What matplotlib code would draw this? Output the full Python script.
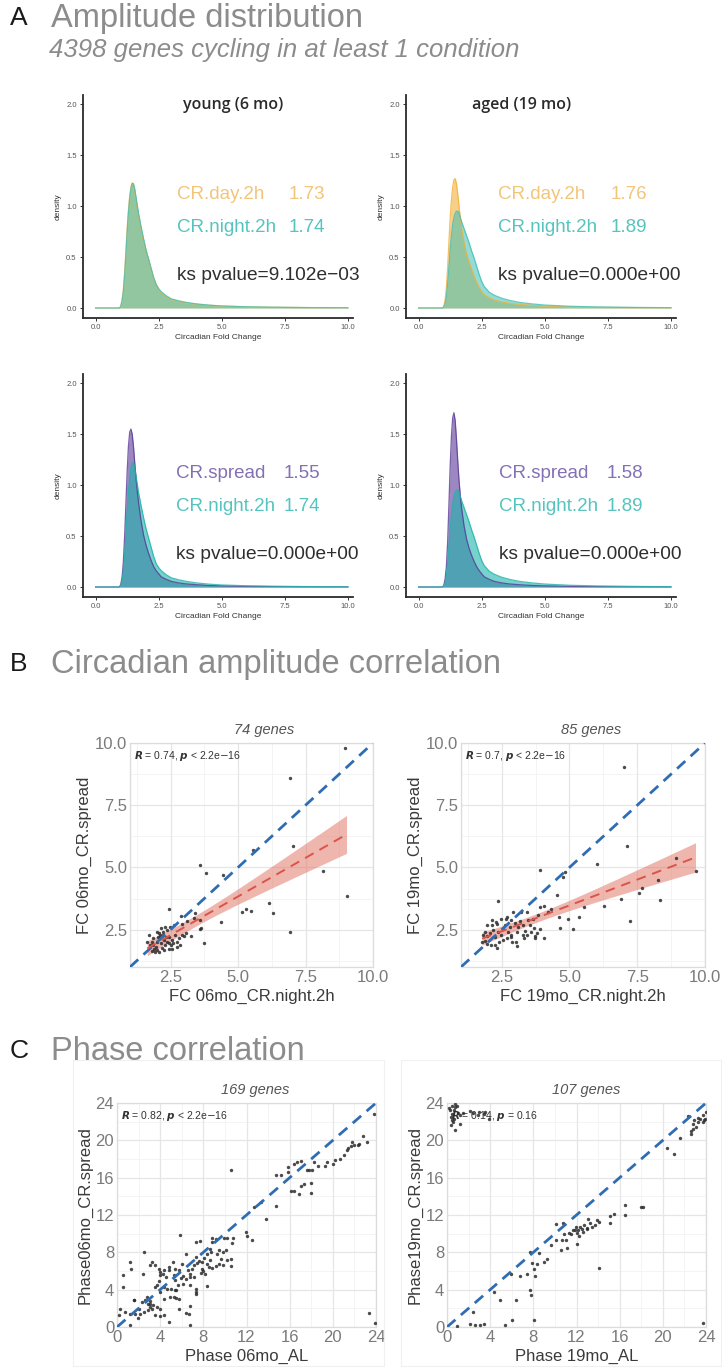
import numpy as np
import matplotlib
matplotlib.use('Agg')
import matplotlib.pyplot as plt
from matplotlib.patches import Rectangle

plt.rcParams['font.family'] = ['Liberation Sans', 'DejaVu Sans']
plt.rcParams['mathtext.fontset'] = 'dejavusans'

W, H = 722, 1369

# ---------------- A: amplitude density curves ----------------
FC_GRID = [0, 0.95, 1.0, 1.05, 1.1, 1.15, 1.2, 1.25, 1.3, 1.35, 1.4, 1.45, 1.5,
           1.55, 1.6, 1.65, 1.7, 1.8, 1.9, 2.0, 2.1, 2.2, 2.3, 2.4, 2.5, 2.6,
           2.8, 3.0, 3.3, 3.6, 4.0, 4.5, 5.0, 6.0, 7.0, 8.5, 10.0]

YOUNG_DAY = [0, 0, 0.02, 0.08, 0.18, 0.35, 0.56, 0.78, 0.96, 1.10, 1.19, 1.23, 1.21,
             1.15, 1.07, 0.99, 0.91, 0.78, 0.66, 0.56, 0.47, 0.38, 0.29, 0.23, 0.18,
             0.15, 0.11, 0.085, 0.065, 0.05, 0.038, 0.027, 0.019, 0.011, 0.007, 0.004, 0.002]
YOUNG_NIGHT = [0, 0, 0.02, 0.07, 0.16, 0.32, 0.52, 0.74, 0.93, 1.07, 1.17, 1.22, 1.22,
               1.17, 1.09, 1.01, 0.93, 0.80, 0.68, 0.57, 0.48, 0.39, 0.30, 0.23, 0.19,
               0.16, 0.12, 0.09, 0.07, 0.055, 0.04, 0.028, 0.02, 0.012, 0.008, 0.004, 0.002]
YOUNG_SPREAD = [0, 0, 0.03, 0.1, 0.25, 0.5, 0.82, 1.13, 1.38, 1.52, 1.55, 1.5, 1.38,
                1.22, 1.07, 0.94, 0.83, 0.65, 0.51, 0.41, 0.33, 0.26, 0.2, 0.16, 0.13,
                0.1, 0.075, 0.055, 0.04, 0.03, 0.022, 0.015, 0.011, 0.006, 0.004, 0.002, 0.001]
AGED_DAY = [0, 0, 0.02, 0.08, 0.2, 0.4, 0.64, 0.88, 1.06, 1.19, 1.26, 1.27, 1.22,
            1.12, 1.0, 0.89, 0.79, 0.64, 0.53, 0.45, 0.38, 0.31, 0.25, 0.2, 0.16,
            0.13, 0.1, 0.078, 0.06, 0.047, 0.036, 0.026, 0.019, 0.011, 0.007, 0.004, 0.002]
AGED_NIGHT = [0, 0, 0.01, 0.04, 0.11, 0.24, 0.40, 0.57, 0.71, 0.82, 0.89, 0.93, 0.95,
              0.95, 0.93, 0.89, 0.85, 0.78, 0.71, 0.64, 0.56, 0.49, 0.41, 0.33, 0.26,
              0.21, 0.155, 0.125, 0.095, 0.075, 0.055, 0.04, 0.029, 0.017, 0.011, 0.006, 0.003]
AGED_SPREAD = [0, 0, 0.02, 0.08, 0.2, 0.44, 0.8, 1.18, 1.48, 1.66, 1.71, 1.63, 1.45,
               1.24, 1.05, 0.9, 0.78, 0.6, 0.47, 0.38, 0.31, 0.25, 0.2, 0.16, 0.13,
               0.1, 0.075, 0.055, 0.04, 0.03, 0.022, 0.015, 0.011, 0.006, 0.004, 0.002, 0.001]

# median fold change per condition
MED_YOUNG = {'day': 1.73, 'night': 1.74, 'spread': 1.55}
MED_AGED = {'day': 1.76, 'night': 1.89, 'spread': 1.58}
KS_PVALUES = ['9.102e\u221203', '0.000e+00', '0.000e+00', '0.000e+00']

# ---------------- B: fold change correlation ----------------
FC06_NIGHT = [8.96, 6.92, 7.03, 5.55, 3.58, 3.83, 4.43, 8.13, 9.02, 6.14, 5.15, 5.31,
              5.49, 6.29, 6.92, 4.38, 3.73, 2.44, 2.88, 3.42, 3.63, 3.6,
              1.72, 1.81, 1.87, 1.9, 1.99, 2.02, 2.07, 2.12, 2.15, 2.19, 2.24, 2.26,
              2.31, 2.36, 2.36, 2.43, 2.46, 2.51, 2.55, 2.61, 2.67, 2.73, 2.8, 2.86,
              2.92, 3.01, 3.08, 3.26, 1.93, 2.09, 2.26, 1.99, 2.14, 1.84, 2.49, 2.64,
              2.73, 2.55, 1.74, 1.64, 2.12, 2.34, 1.97, 2.21, 2.43, 3.11, 3.36, 3.58,
              2.92, 2.0, 2.3, 1.8]
FC06_SPREAD = [9.81, 8.58, 5.88, 5.72, 5.11, 4.76, 4.68, 4.85, 3.84, 3.59, 3.22, 3.32,
               3.27, 3.18, 2.39, 2.82, 1.98, 3.35, 3.06, 3.15, 2.55, 2.9,
               2.29, 2.02, 1.89, 1.73, 2.02, 2.22, 2.35, 2.15, 1.95, 1.78, 2.29, 2.09,
               1.89, 2.49, 2.02, 1.73, 2.22, 1.89, 2.09, 1.95, 2.29, 2.02, 2.15, 1.89,
               2.29, 2.26, 2.35, 2.26, 1.62, 1.6, 1.69, 2.42, 2.55, 2.15, 2.62, 2.69,
               1.82, 1.73, 1.89, 2.02, 2.29, 2.22, 1.82, 2.42, 1.95, 2.85, 2.95, 2.53,
               2.71, 1.7, 2.6, 1.65]

FC19_NIGHT = [7.01, 7.13, 6.02, 8.93, 9.65, 3.91, 4.82, 4.75, 4.54, 5.54, 6.27, 6.89,
              7.58, 7.69, 8.25, 8.35, 7.23, 2.38, 4.07, 3.91, 4.61, 4.94, 5.34, 4.66,
              5.13, 4.07, 3.73, 3.73, 3.08, 2.87, 2.31, 2.25, 1.78,
              1.82, 1.9, 1.97, 2.07, 2.15, 2.19, 2.24, 2.31, 2.36, 2.46, 2.56, 2.61,
              2.65, 2.71, 2.73, 2.81, 2.86, 2.93, 2.98, 3.06, 3.11, 3.18, 3.23, 3.3,
              3.35, 3.43, 3.48, 3.55, 3.64, 3.7, 3.79, 3.85, 3.92, 2.56, 2.4, 2.71,
              2.84, 2.1, 1.97, 3.27, 3.45, 3.58, 2.15, 2.28, 4.2, 4.32, 2.83, 3.04,
              3.33, 1.97, 1.87, 2.46]
FC19_SPREAD = [9.04, 5.88, 5.15, 5.39, 4.84, 4.91, 4.81, 4.61, 3.91, 3.40, 3.47, 3.74,
               3.98, 4.18, 4.51, 3.70, 2.86, 3.66, 3.46, 3.42, 3.01, 2.93, 3.01, 2.55,
               2.54, 2.18, 2.26, 2.15, 1.85, 2.0, 1.76, 1.89, 2.02,
               2.29, 2.42, 2.26, 2.35, 2.69, 2.49, 2.22, 2.71, 2.42, 2.29, 2.53, 2.69,
               2.93, 3.02, 2.39, 2.62, 2.29, 3.22, 2.75, 2.42, 2.62, 2.85, 3.22, 2.69,
               2.45, 3.22, 2.89, 2.69, 2.93, 2.55, 2.35, 3.09, 2.53, 2.09, 2.02, 2.15,
               2.22, 1.89, 1.92, 2.29, 2.29, 2.39, 2.89, 2.82, 3.22, 3.35, 2.89, 2.02,
               2.15, 2.69, 2.05, 2.93]

# ---------------- C: phase correlation ----------------
PH06_AL = [23.84, 22.76, 23.16, 22.45, 22.3, 21.98, 21.67, 21.4, 21.76, 21.3, 20.99,
           20.68, 20.06, 20.2, 19.44, 19.29, 18.58, 18.27, 18.11, 17.8, 17.65, 17.03,
           16.72, 16.4, 15.88, 15.88, 15.17, 14.7, 17.34, 17.03, 17.96, 17.96, 16.1,
           16.4, 16.87, 14.7, 13.78, 12.69, 13.31, 11.92, 12.0, 12.54, 10.59,
           10.77, 10.68, 10.22, 10.06, 10.59, 10.15, 10.53, 9.85, 9.85, 9.44, 9.29,
           8.82, 9.13, 8.82, 8.61, 8.73, 8.36, 8.05, 7.89, 8.3, 8.51, 8.82, 9.13,
           9.44, 7.89, 7.74, 8.11, 7.28, 7.68, 8.36, 7.28, 7.43, 7.18, 6.97, 6.81,
           6.75, 7.12, 6.44, 6.13, 5.82, 6.35, 6.04, 5.73, 5.42, 5.26, 5.42, 5.63,
           6.13, 6.75, 7.28, 7.28, 7.28, 5.2, 4.8, 4.8, 4.58, 4.27, 4.02, 3.87, 3.72,
           3.56, 4.33, 4.64, 5.0, 5.33, 5.51, 5.26, 5.51, 5.73, 5.73, 6.44, 6.66,
           6.81, 6.81, 4.02, 4.33, 4.4, 4.8,
           2.54, 3.25, 3.56, 3.03, 3.87, 4.02, 4.33, 2.38, 1.18, 1.3, 0.56, 0.56,
           1.55, 2.01, 2.32, 2.63, 2.85, 3.03, 3.25, 3.34, 3.1, 2.79, 3.72, 3.96,
           3.56, 3.96, 2.54, 2.17, 1.7, 1.24, 0.77, 0.25, 0.15, 1.24, 1.92, 1.61,
           23.37, 23.9, 8.0, 8.6, 9.6, 7.6, 6.6, 5.9, 4.9, 3.1, 2.9, 9.9]
PH06_SPREAD = [22.86, 20.43, 19.86, 19.64, 19.46, 19.46, 19.36, 19.2, 19.8, 19.0, 18.4,
               18.04, 17.43, 17.86, 17.68, 17.21, 17.21, 17.68, 16.86, 16.79, 16.79,
               17.75, 17.68, 17.43, 17.14, 16.6, 16.25, 16.25, 15.29, 15.07, 15.43,
               14.36, 14.57, 14.54, 14.21, 12.93, 11.61, 12.86, 13.39, 10.18, 9.75,
               9.36, 16.79,
               9.54, 9.0, 9.57, 8.21, 7.32, 7.21, 6.5, 6.61, 8.04, 8.21, 7.79, 9.57,
               9.46, 9.11, 8.39, 8.04, 7.86, 7.43, 6.96, 6.71, 6.43, 6.36, 6.5, 6.71,
               6.25, 5.79, 5.71, 9.11, 9.21, 4.36, 7.5, 6.86, 6.61, 6.25, 5.71, 5.36,
               5.36, 5.18, 5.43, 9.82, 7.86, 6.79, 6.07, 6.25, 5.54, 5.0, 4.46, 4.57,
               4.46, 4.11, 3.57, 3.75, 6.96, 6.43, 6.07, 5.36, 5.71, 5.54, 4.93, 4.46,
               4.29, 4.29, 4.11, 4.11, 4.0, 4.0, 3.21, 3.14, 3.04, 1.96, 1.54, 1.43,
               2.21, 0.18, 3.75, 3.04, 1.25, 0.54,
               8.04, 6.96, 6.61, 6.61, 6.25, 5.89, 6.07, 5.71, 6.96, 6.25, 5.54, 4.29,
               2.86, 1.96, 2.68, 2.93, 2.43, 2.14, 1.96, 2.32, 2.79, 3.21, 2.14, 1.96,
               1.25, 1.14, 1.61, 1.43, 1.43, 1.43, 1.61, 1.96, 1.25, 0.18, 1.0, 2.93,
               1.5, 0.46, 6.0, 7.2, 7.3, 7.1, 6.1, 5.3, 3.2, 2.5, 1.8, 9.5]

PH19_AL = [0.62, 0.46, 0.37, 0.62, 0.56, 0.77, 1.18, 1.24, 1.49, 2.17, 2.41, 2.85,
           2.94, 3.41, 3.56, 3.87, 0.46, 0.77, 0.93, 0.31,
           23.84, 23.68, 23.47, 23.22, 22.91, 22.76, 22.76, 22.6, 22.6, 23.07, 23.68,
           21.61, 21.05, 20.43, 23.99,
           18.02, 18.2, 16.5, 16.5, 15.48, 15.11, 15.11, 14.09, 13.87, 13.68, 13.47,
           13.25, 13.07, 12.94, 12.69, 12.54, 12.32, 12.14, 11.92, 12.0, 12.23, 11.7,
           11.46, 11.3, 10.84, 10.77, 10.68, 10.99, 10.59, 11.08, 12.07, 10.06, 10.06,
           9.66, 9.29, 8.98, 8.51, 8.36, 8.11, 8.05, 7.68, 7.89, 7.43, 6.75, 5.94,
           7.68, 7.74, 6.44, 4.95, 4.33, 2.41, 14.09, 8.05, 6.04, 5.42, 3.41, 3.03,
           2.63, 2.11, 0.93, 23.68,
           0.2, 0.5, 1.0, 0.7, 0.35, 23.3, 23.9, 22.3, 11.9, 12.6, 13.0]
PH19_SPREAD = [23.29, 22.86, 22.5, 22.32, 21.96, 21.14, 21.71, 22.68, 22.93, 23.14,
               22.93, 22.68, 23.04, 22.86, 23.04, 22.32, 23.64, 23.57, 23.64, 23.21,
               22.14, 21.96, 22.32, 22.43, 22.14, 21.79, 21.25, 21.0, 20.64, 21.43,
               22.68, 20.29, 18.57, 19.21, 23.04,
               12.86, 12.86, 13.04, 11.96, 12.07, 11.86, 11.14, 11.25, 11.43, 10.89,
               10.71, 11.14, 11.54, 10.54, 10.89, 10.54, 10.71, 10.36, 10.71, 10.07,
               9.71, 10.36, 9.93, 10.07, 9.93, 11.14, 9.36, 9.36, 8.21, 8.46, 8.86,
               11.0, 9.36, 8.82, 7.32, 6.96, 7.93, 6.79, 5.43, 6.25, 8.04, 6.86, 5.71,
               5.43, 5.71, 4.0, 3.39, 2.93, 2.93, 3.75, 1.61, 6.36, 0.79, 0.71, 0.18,
               0.29, 0.18, 0.18, 0.29, 0.07, 0.43,
               23.5, 22.2, 22.9, 23.9, 21.6, 22.0, 22.3, 22.6, 10.4, 10.2, 10.6]

T_CRIT = 1.99          # two-sided 95% t quantile, ~75 dof

C_DAY = '#F3B03A'
C_NIGHT_LIGHT = '#3FBFB5'
C_NIGHT = '#1DB3AA'
C_SPREAD = '#5A3898'
C_TITLE = '#8c8c8c'
C_TICK = '#7a7a7a'
C_PT = '#2b2b2b'
C_DIAG = '#2F6DB3'
C_FIT = '#D9544A'

fig = plt.figure(figsize=(W / 100, H / 100), dpi=100)
fig.patch.set_facecolor('white')


def px_axes(x0, y0, x1, y1):
    return fig.add_axes([x0 / W, 1 - y1 / H, (x1 - x0) / W, (y1 - y0) / H])


def ftext(x, y, s, **kw):
    fig.text(x / W, 1 - y / H, s, **kw)


# ---------- section headers ----------
for letter, title, y in [('A', 'Amplitude distribution', 18),
                         ('B', 'Circadian amplitude correlation', 664),
                         ('C', 'Phase correlation', 1051)]:
    ftext(10, y, letter, fontsize=19, color='#1a1a1a', va='center')
    ftext(51, y, title, fontsize=23.5, color=C_TITLE, va='center')
ftext(49, 50, '4398 genes cycling in at least 1 condition', fontsize=18.5,
      color=C_TITLE, style='italic', va='center')


# ---------- A ----------
def density_panel(rect, curves, rows, ks, xtxt):
    ax = px_axes(*rect)
    for y, col, a in curves:
        ax.fill_between(FC_GRID, y, color=col, alpha=a, lw=0)
        ax.plot(FC_GRID, y, color=col, lw=0.9, alpha=0.8)
    ax.set_xlim(-0.5, 10.2)
    ax.set_ylim(-0.098, 2.09)
    ax.set_xticks([0, 2.5, 5, 7.5, 10])
    ax.set_xticklabels(['0.0', '2.5', '5.0', '7.5', '10.0'])
    ax.set_yticks([0, 0.5, 1.0, 1.5, 2.0])
    ax.set_yticklabels(['0.0', '0.5', '1.0', '1.5', '2.0'])
    ax.tick_params(labelsize=5.5, labelcolor='#555555', length=2.5, width=0.7,
                   color='#333333', pad=2)
    for s in ['top', 'right']:
        ax.spines[s].set_visible(False)
    for s in ['left', 'bottom']:
        ax.spines[s].set_linewidth(1.3)
        ax.spines[s].set_color('#2a2a2a')
    ax.set_xlabel('Circadian Fold Change', fontsize=6, color='#333333', labelpad=2)
    ax.set_ylabel('density', fontsize=6, color='#333333', labelpad=3)
    ax.patch.set_alpha(0)
    for (label, val, col), yy in zip(rows, [1.11, 0.79]):
        ax.text(xtxt[0], yy, label, fontsize=13.5, color=col, va='center')
        ax.text(xtxt[1], yy, f'{val:.2f}', fontsize=13.5, color=col, va='center')
    ax.text(xtxt[0], 0.32, f'ks pvalue={ks}', fontsize=13.8, color='#2e2e2e',
            va='center', clip_on=False)
    return ax


T_DAY, T_NIGHT, T_SPREAD = '#F2C57A', '#55C4BE', '#8470B4'
density_panel((83, 95, 353, 318),
              [(YOUNG_DAY, C_DAY, 0.6), (YOUNG_NIGHT, C_NIGHT_LIGHT, 0.55)],
              [('CR.day.2h', MED_YOUNG['day'], T_DAY),
               ('CR.night.2h', MED_YOUNG['night'], T_NIGHT)],
              KS_PVALUES[0], (3.23, 7.65))
density_panel((406, 95, 676, 318),
              [(AGED_DAY, C_DAY, 0.6), (AGED_NIGHT, C_NIGHT_LIGHT, 0.55)],
              [('CR.day.2h', MED_AGED['day'], T_DAY),
               ('CR.night.2h', MED_AGED['night'], T_NIGHT)],
              KS_PVALUES[1], (3.13, 7.6))
density_panel((83, 374, 353, 597),
              [(YOUNG_SPREAD, C_SPREAD, 0.6), (YOUNG_NIGHT, C_NIGHT, 0.6)],
              [('CR.spread', MED_YOUNG['spread'], T_SPREAD),
               ('CR.night.2h', MED_YOUNG['night'], T_NIGHT)],
              KS_PVALUES[2], (3.19, 7.45))
density_panel((406, 374, 676, 597),
              [(AGED_SPREAD, C_SPREAD, 0.6), (AGED_NIGHT, C_NIGHT, 0.6)],
              [('CR.spread', MED_AGED['spread'], T_SPREAD),
               ('CR.night.2h', MED_AGED['night'], T_NIGHT)],
              KS_PVALUES[3], (3.17, 7.45))

for label, x in [('young (6 mo)', 233), ('aged (19 mo)', 522)]:
    ftext(x, 105, label, fontsize=11.5, color='#2a2a2a', ha='center',
          va='center', fontweight='semibold', family=['Open Sans', 'DejaVu Sans'])


# ---------- B / C ----------
def corr_panel(rect, xs, ys, lim, major, minor, ticklabels, xlabel, ylabel,
               title, title_x, rlabel, fit=False):
    ax = px_axes(*rect)
    ax.set_xlim(*lim)
    ax.set_ylim(*lim)
    for v in minor:
        ax.axvline(v, color='#f3f3f3', lw=0.6, zorder=0)
        ax.axhline(v, color='#f3f3f3', lw=0.6, zorder=0)
    for v in major:
        ax.axvline(v, color='#e6e6e6', lw=0.9, zorder=0)
        ax.axhline(v, color='#e6e6e6', lw=0.9, zorder=0)
    ax.text(0.015, 0.975, rlabel, transform=ax.transAxes, fontsize=7.5,
            color='#333333', va='top', ha='left', zorder=1)
    ax.scatter(xs, ys, s=6, color=C_PT, alpha=0.85, lw=0, zorder=3)
    ax.plot(lim, lim, color=C_DIAG, lw=2.0, dashes=(4, 2.6), zorder=4)
    if fit:
        x = np.asarray(xs)
        y = np.asarray(ys)
        b, a = np.polyfit(x, y, 1)
        n = len(x)
        resid = y - (a + b * x)
        s = np.sqrt(np.sum(resid ** 2) / (n - 2))
        gx = np.linspace(x.min(), x.max(), 80)
        se = s * np.sqrt(1 / n + (gx - x.mean()) ** 2 / np.sum((x - x.mean()) ** 2))
        gy = a + b * gx
        ax.fill_between(gx, gy - T_CRIT * se, gy + T_CRIT * se, color='#E27A6C',
                        alpha=0.55, lw=0, zorder=2)
        ax.plot(gx, gy, color=C_FIT, lw=1.4, dashes=(5, 3.5), zorder=5)
    ax.set_xticks(major[1:] if lim[0] > 0 else major)
    ax.set_yticks(major[1:] if lim[0] > 0 else major)
    ax.set_xticklabels(ticklabels)
    ax.set_yticklabels(ticklabels)
    ax.tick_params(length=0, labelsize=12, labelcolor=C_TICK, pad=2)
    for sp in ax.spines.values():
        sp.set_color('#dcdcdc')
        sp.set_linewidth(0.9)
    ax.set_xlabel(xlabel, fontsize=12, color='#3a3a3a', labelpad=3)
    ax.set_ylabel(ylabel, fontsize=12, color='#3a3a3a', labelpad=2)
    ftext(title_x, rect[1] - 13, title, fontsize=10.5, style='italic',
          color='#555555', ha='center', va='center')
    return ax


B_MAJOR = [1.0, 2.5, 5.0, 7.5, 10.0]
B_MINOR = [1.25, 3.75, 6.25, 8.75]
B_LABELS = ['2.5', '5.0', '7.5', '10.0']
corr_panel((130, 743, 373, 967), FC06_NIGHT, FC06_SPREAD, (1.0, 10.0),
           B_MAJOR, B_MINOR, B_LABELS, 'FC 06mo_CR.night.2h', 'FC 06mo_CR.spread',
           '74 genes', 264, r'$\mathbfit{R}$ = 0.74, $\mathbfit{p}$ < 2.2e$-$16', fit=True)
corr_panel((461, 743, 705, 967), FC19_NIGHT, FC19_SPREAD, (1.0, 10.0),
           B_MAJOR, B_MINOR, B_LABELS, 'FC 19mo_CR.night.2h', 'FC 19mo_CR.spread',
           '85 genes', 591, r'$\mathbfit{R}$ = 0.7, $\mathbfit{p}$ < 2.2e$-$16', fit=True)

C_MAJOR = [0, 4, 8, 12, 16, 20, 24]
C_MINOR = [2, 6, 10, 14, 18, 22]
C_LABELS = [str(v) for v in C_MAJOR]

# light frames around the phase panels
for x0, x1 in [(73, 384), (401, 721)]:
    fig.patches.append(Rectangle((x0 / W, 1 - 1366 / H), (x1 - x0) / W, (1366 - 1060) / H,
                                 transform=fig.transFigure, facecolor='none',
                                 edgecolor='#f0f0f0', lw=0.8, zorder=0))

corr_panel((117, 1103, 376, 1327), PH06_AL, PH06_SPREAD, (0, 24),
           C_MAJOR, C_MINOR, C_LABELS, 'Phase 06mo_AL', 'Phase06mo_CR.spread',
           '169 genes', 255, r'$\mathbfit{R}$ = 0.82, $\mathbfit{p}$ < 2.2e$-$16')
corr_panel((447, 1103, 706, 1327), PH19_AL, PH19_SPREAD, (0, 24),
           C_MAJOR, C_MINOR, C_LABELS, 'Phase 19mo_AL', 'Phase19mo_CR.spread',
           '107 genes', 586, r'$\mathbfit{R}$ = 0.14, $\mathbfit{p}$ = 0.16')

fig.savefig('out.png', dpi=100, facecolor='white')
